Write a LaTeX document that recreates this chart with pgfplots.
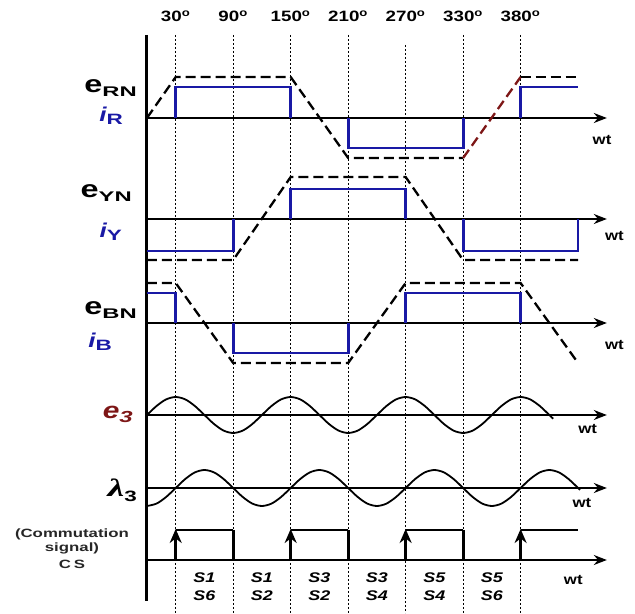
\documentclass[border=0pt]{standalone}
\usepackage{pgfplots}
\pgfplotsset{compat=1.18}
\usepackage{fontspec}
\setmainfont{Liberation Sans}
\newfontfamily\serifb{Liberation Serif}
\usetikzlibrary{arrows.meta}
\definecolor{curblue}{RGB}{25,25,165}
\definecolor{dred}{RGB}{125,22,22}
\newcommand{\hs}[2]{\scalebox{#1}[1]{#2}}
\tikzset{
  toplab/.style={font=\bfseries\fontsize{15}{15}\selectfont},
  slab/.style={font=\bfseries\itshape\fontsize{14}{14}\selectfont},
  wtlab/.style={font=\bfseries\fontsize{14}{14}\selectfont},
  cslab/.style={text=black!85, font=\bfseries\fontsize{12}{12}\selectfont},
}
\begin{document}
\begin{tikzpicture}
\begin{axis}[scale only axis, width=635pt, height=613pt,
  xmin=-153.4, xmax=509.4, ymin=-613, ymax=0,
  axis lines=none, clip=false,
  emf/.style={black, line width=2.3pt, dash pattern=on 10pt off 5pt, mark=none},
  cur/.style={curblue, line width=2.8pt, mark=none},
  wave/.style={black, line width=1.8pt, smooth, mark=none},
  ax/.style={black, line width=1.8pt, mark=none, -{Stealth[length=13pt,width=10pt]}},
  dot/.style={black, line width=1pt, dash pattern=on 2pt off 2pt, mark=none},
]
\path (rel axis cs:0,0) rectangle (rel axis cs:1,1);
% dotted guide lines
\addplot[dot] coordinates {(30,-35)(30,-613)};
\addplot[dot] coordinates {(90,-35)(90,-613)};
\addplot[dot] coordinates {(150,-35)(150,-613)};
\addplot[dot] coordinates {(210,-35)(210,-613)};
\addplot[dot] coordinates {(270,-45)(270,-613)};
\addplot[dot] coordinates {(330,-35)(330,-613)};
\addplot[dot] coordinates {(390,-35)(390,-613)};
% main vertical axis
\addplot[black, line width=3pt, mark=none] coordinates {(0,-35)(0,-601)};
% horizontal axes
\addplot[ax] coordinates {(0,-118)(480,-118)};
\addplot[ax] coordinates {(0,-219)(480,-219)};
\addplot[ax] coordinates {(0,-323)(480,-323)};
\addplot[ax] coordinates {(0,-415)(480,-415)};
\addplot[ax] coordinates {(0,-488)(480,-488)};
\addplot[ax] coordinates {(0,-560)(480,-560)};
% e_RN
\addplot[emf] coordinates {(0,-118)(30,-77)(150,-77)(210,-158)(330,-158)};
\addplot[emf, dred] coordinates {(330,-158)(390,-77)};
\addplot[emf] coordinates {(390,-77)(450,-77)};
% i_R
\addplot[cur] coordinates {(30,-118)(30,-87)(150,-87)(150,-118)};
\addplot[cur] coordinates {(210,-118)(210,-148)(330,-148)(330,-118)};
\addplot[cur] coordinates {(390,-118)(390,-87)(450,-87)};
% e_YN
\addplot[emf] coordinates {(0,-260)(90,-260)(150,-177)(270,-177)(330,-260)(450,-260)};
% i_Y
\addplot[cur] coordinates {(0,-251)(90,-251)(90,-219)};
\addplot[cur] coordinates {(150,-219)(150,-189)(270,-189)(270,-219)};
\addplot[cur] coordinates {(330,-219)(330,-251)(450,-251)(450,-219)};
% e_BN
\addplot[emf] coordinates {(0,-283)(30,-283)(90,-363)(210,-363)(270,-283)(390,-283)(450,-363)};
% i_B
\addplot[cur] coordinates {(0,-293)(30,-293)(30,-323)};
\addplot[cur] coordinates {(90,-323)(90,-353)(210,-353)(210,-323)};
\addplot[cur] coordinates {(270,-323)(270,-293)(390,-293)(390,-323)};
% e3
\addplot[wave] coordinates {
(0,-415)(10,-406)(20,-399.4)(30,-397)(40,-399.4)(50,-406)(60,-415)(70,-424)(80,-430.6)(90,-433)(100,-430.6)(110,-424)
(120,-415)(130,-406)(140,-399.4)(150,-397)(160,-399.4)(170,-406)(180,-415)(190,-424)(200,-430.6)(210,-433)(220,-430.6)(230,-424)
(240,-415)(250,-406)(260,-399.4)(270,-397)(280,-399.4)(290,-406)(300,-415)(310,-424)(320,-430.6)(330,-433)(340,-430.6)(350,-424)
(360,-415)(370,-406)(380,-399.4)(390,-397)(400,-399.4)(410,-406)(420,-415)(424,-418.7)};
% lambda3
\addplot[wave] coordinates {
(0,-506)(10,-503.6)(20,-497)(30,-488)(40,-479)(50,-472.4)(60,-470)(70,-472.4)(80,-479)(90,-488)(100,-497)(110,-503.6)
(120,-506)(130,-503.6)(140,-497)(150,-488)(160,-479)(170,-472.4)(180,-470)(190,-472.4)(200,-479)(210,-488)(220,-497)(230,-503.6)
(240,-506)(250,-503.6)(260,-497)(270,-488)(280,-479)(290,-472.4)(300,-470)(310,-472.4)(320,-479)(330,-488)(340,-497)(350,-503.6)
(360,-506)(370,-503.6)(380,-497)(390,-488)(400,-479)(410,-472.4)(420,-470)(430,-472.4)(440,-479)(450,-488)(452,-489.9)};
% commutation signal
\addplot[black, line width=1.8pt, mark=none] coordinates {(30,-530)(90,-530)};
\addplot[black, line width=1.8pt, mark=none] coordinates {(150,-530)(210,-530)};
\addplot[black, line width=1.8pt, mark=none] coordinates {(270,-530)(330,-530)};
\addplot[black, line width=1.8pt, mark=none] coordinates {(390,-530)(450,-530)};
\addplot[black, line width=3pt, mark=none] coordinates {(90,-530)(90,-560)};
\addplot[black, line width=3pt, mark=none] coordinates {(210,-530)(210,-560)};
\addplot[black, line width=3pt, mark=none] coordinates {(330,-530)(330,-560)};
\addplot[black, line width=2.6pt, mark=none, -{Stealth[length=14pt,width=12pt]}] coordinates {(30,-560)(30,-529)};
\addplot[black, line width=2.6pt, mark=none, -{Stealth[length=14pt,width=12pt]}] coordinates {(150,-560)(150,-529)};
\addplot[black, line width=2.6pt, mark=none, -{Stealth[length=14pt,width=12pt]}] coordinates {(270,-560)(270,-529)};
\addplot[black, line width=2.6pt, mark=none, -{Stealth[length=14pt,width=12pt]}] coordinates {(390,-560)(390,-529)};
% top labels
\node[toplab] at (axis cs:30,-16) {\hs{1.25}{30\textsuperscript{o}}};
\node[toplab] at (axis cs:90,-16) {\hs{1.25}{90\textsuperscript{o}}};
\node[toplab] at (axis cs:150,-16) {\hs{1.25}{150\textsuperscript{o}}};
\node[toplab] at (axis cs:210,-16) {\hs{1.25}{210\textsuperscript{o}}};
\node[toplab] at (axis cs:270,-16) {\hs{1.25}{270\textsuperscript{o}}};
\node[toplab] at (axis cs:330,-16) {\hs{1.25}{330\textsuperscript{o}}};
\node[toplab] at (axis cs:390,-16) {\hs{1.25}{380\textsuperscript{o}}};
% wt labels
\node[wtlab] at (axis cs:475,-140) {\hs{1.2}{wt}};
\node[wtlab] at (axis cs:488,-236) {\hs{1.2}{wt}};
\node[wtlab] at (axis cs:488,-345) {\hs{1.2}{wt}};
\node[wtlab] at (axis cs:460,-429) {\hs{1.2}{wt}};
\node[wtlab] at (axis cs:454,-503) {\hs{1.2}{wt}};
\node[wtlab] at (axis cs:445,-580) {\hs{1.2}{wt}};
% left labels
\node[anchor=east, inner sep=0pt, font=\bfseries\fontsize{24}{24}\selectfont] at (axis cs:-10.4,-88) {\hs{1.35}{e}\raisebox{-4pt}{\fontsize{14}{14}\selectfont\hs{1.7}{RN}}};
\node[anchor=east, inner sep=0pt, text=curblue, font=\bfseries\fontsize{20}{20}\selectfont] at (axis cs:-25,-116) {\hs{1.3}{\itshape i}\raisebox{-3pt}{\fontsize{15}{15}\selectfont\hs{1.5}{R}}};
\node[anchor=east, inner sep=0pt, font=\bfseries\fontsize{24}{24}\selectfont] at (axis cs:-15.7,-193) {\hs{1.35}{e}\raisebox{-4pt}{\fontsize{14}{14}\selectfont\hs{1.7}{YN}}};
\node[anchor=east, inner sep=0pt, text=curblue, font=\bfseries\fontsize{20}{20}\selectfont] at (axis cs:-26,-232) {\hs{1.3}{\itshape i}\raisebox{-3pt}{\fontsize{15}{15}\selectfont\hs{1.5}{Y}}};
\node[anchor=east, inner sep=0pt, font=\bfseries\fontsize{24}{24}\selectfont] at (axis cs:-10.4,-310) {\hs{1.35}{e}\raisebox{-4pt}{\fontsize{14}{14}\selectfont\hs{1.7}{BN}}};
\node[anchor=east, inner sep=0pt, text=curblue, font=\bfseries\fontsize{20}{20}\selectfont] at (axis cs:-36.5,-342) {\hs{1.3}{\itshape i}\raisebox{-3pt}{\fontsize{15}{15}\selectfont\hs{1.5}{B}}};
\node[anchor=east, inner sep=0pt, text=dred, font=\bfseries\itshape\fontsize{23}{23}\selectfont] at (axis cs:-14.6,-414) {\hs{1.3}{e}\raisebox{-4pt}{\fontsize{16}{16}\selectfont\hs{1.5}{3}}};
\node[anchor=east, inner sep=0pt, font=\bfseries\fontsize{25}{25}\selectfont] at (axis cs:-10.4,-490) {\hs{1.5}{\serifb\bfseries\itshape λ}\raisebox{-5pt}{\fontsize{15}{15}\selectfont\hs{1.5}{3}}};
\node[cslab] at (axis cs:-78.3,-534) {\hs{1.4}{(Commutation}};
\node[cslab] at (axis cs:-78.3,-548) {\hs{1.4}{signal)}};
\node[cslab] at (axis cs:-78.3,-564) {\hs{1.4}{C\,S}};
% switch labels
\node[slab] at (axis cs:60,-578) {\hs{1.28}{S1}};  \node[slab] at (axis cs:60,-596) {\hs{1.28}{S6}};
\node[slab] at (axis cs:120,-578) {\hs{1.28}{S1}}; \node[slab] at (axis cs:120,-596) {\hs{1.28}{S2}};
\node[slab] at (axis cs:180,-578) {\hs{1.28}{S3}}; \node[slab] at (axis cs:180,-596) {\hs{1.28}{S2}};
\node[slab] at (axis cs:240,-578) {\hs{1.28}{S3}}; \node[slab] at (axis cs:240,-596) {\hs{1.28}{S4}};
\node[slab] at (axis cs:300,-578) {\hs{1.28}{S5}}; \node[slab] at (axis cs:300,-596) {\hs{1.28}{S4}};
\node[slab] at (axis cs:360,-578) {\hs{1.28}{S5}}; \node[slab] at (axis cs:360,-596) {\hs{1.28}{S6}};
\end{axis}
\end{tikzpicture}
\end{document}
